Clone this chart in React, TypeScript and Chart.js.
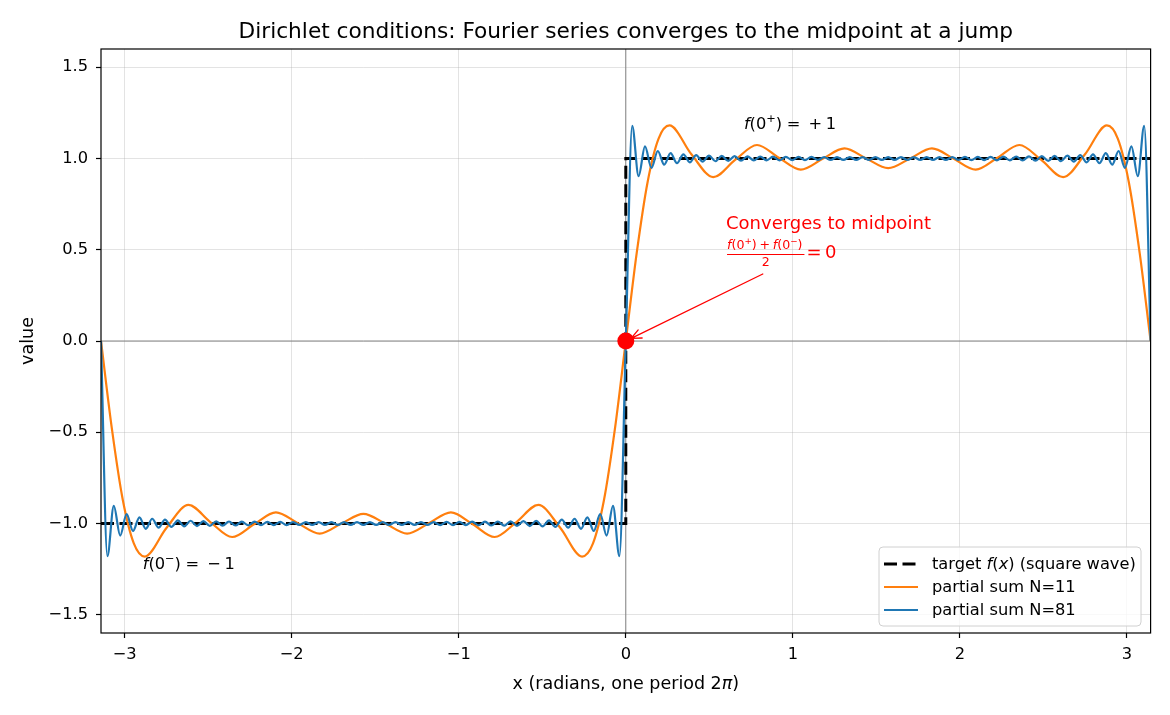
import React, { useEffect, useRef } from "react";
import { Chart, registerables } from "chart.js";

Chart.register(...registerables);

const FONT = '"DejaVu Sans", "Noto Sans", sans-serif';

// Axis limits and ticks
const xLimits = [-3.1416, 3.1416];
const yLimits = [-1.6, 1.6];
const xTickValues = [-3, -2, -1, 0, 1, 2, 3];
const yTickValues = [-1.5, -1.0, -0.5, 0.0, 0.5, 1.0, 1.5];

// Target square wave f(x)
const targetX = [-3.1416, 0, 0, 3.1416];
const targetY = [-1, -1, 1, 1];

// Partial sum N=11 (extrema, crossings and the steep rise through the jump)
const n11X = [
  -3.1416, -3.0761, -3.0107, -2.9452, -2.8798, -2.7489, -2.618, -2.4871, -2.3562, -2.2253,
  -2.0944, -1.9635, -1.8326, -1.7017, -1.5708, -1.4399, -1.309, -1.1781, -1.0472, -0.9163,
  -0.7854, -0.6545, -0.5236, -0.3927, -0.2618, -0.1963, -0.1309, -0.0654, 0,
  0.0654, 0.1309, 0.1963, 0.2618, 0.3927, 0.5236, 0.6545, 0.7854, 0.9163, 1.0472,
  1.1781, 1.309, 1.4399, 1.5708, 1.7017, 1.8326, 1.9635, 2.0944, 2.2253, 2.3562,
  2.4871, 2.618, 2.7489, 2.8798, 2.9452, 3.0107, 3.0761, 3.1416,
];
const n11Y = [
  0, -0.483, -0.873, -1.109, -1.181, -1.023, -0.898, -0.992, -1.074, -1.004,
  -0.939, -0.998, -1.055, -1.0, -0.947, -1.0, -1.055, -0.998, -0.939, -1.004,
  -1.074, -0.992, -0.898, -1.023, -1.181, -1.109, -0.873, -0.483, 0,
  0.483, 0.873, 1.109, 1.181, 1.023, 0.898, 0.992, 1.074, 1.004, 0.939,
  0.998, 1.055, 1.0, 0.947, 1.0, 1.055, 0.998, 0.939, 1.004, 1.074,
  0.992, 0.898, 1.023, 1.181, 1.109, 0.873, 0.483, 0,
];

// Partial sum N=81 (ripple peaks and troughs)
const n81X = [
  -3.1416,
  -3.1033, -3.065, -3.0267, -2.9883, -2.95, -2.9117, -2.8734, -2.8351, -2.7968, -2.7585,
  -2.7202, -2.6818, -2.6435, -2.6052, -2.5669, -2.5286, -2.4903, -2.452, -2.4137, -2.3754,
  -2.337, -2.2987, -2.2604, -2.2221, -2.1838, -2.1455, -2.1072, -2.0689, -2.0305, -1.9922,
  -1.9539, -1.9156, -1.8773, -1.839, -1.8007, -1.7624, -1.724, -1.6857, -1.6474, -1.6091,
  -1.5708,
  -1.5325, -1.4942, -1.4559, -1.4175, -1.3792, -1.3409, -1.3026, -1.2643, -1.226, -1.1877,
  -1.1494, -1.1111, -1.0727, -1.0344, -0.9961, -0.9578, -0.9195, -0.8812, -0.8429, -0.8046,
  -0.7662, -0.7279, -0.6896, -0.6513, -0.613, -0.5747, -0.5364, -0.4981, -0.4597, -0.4214,
  -0.3831, -0.3448, -0.3065, -0.2682, -0.2299, -0.1916, -0.1532, -0.1149, -0.0766, -0.0383,
  0,
  0.0383, 0.0766, 0.1149, 0.1532, 0.1916, 0.2299, 0.2682, 0.3065, 0.3448, 0.3831,
  0.4214, 0.4597, 0.4981, 0.5364, 0.5747, 0.613, 0.6513, 0.6896, 0.7279, 0.7662,
  0.8046, 0.8429, 0.8812, 0.9195, 0.9578, 0.9961, 1.0344, 1.0727, 1.1111, 1.1494,
  1.1877, 1.226, 1.2643, 1.3026, 1.3409, 1.3792, 1.4175, 1.4559, 1.4942, 1.5325,
  1.5708,
  1.6091, 1.6474, 1.6857, 1.724, 1.7624, 1.8007, 1.839, 1.8773, 1.9156, 1.9539,
  1.9922, 2.0305, 2.0689, 2.1072, 2.1455, 2.1838, 2.2221, 2.2604, 2.2987, 2.337,
  2.3754, 2.4137, 2.452, 2.4903, 2.5286, 2.5669, 2.6052, 2.6435, 2.6818, 2.7202,
  2.7585, 2.7968, 2.8351, 2.8734, 2.9117, 2.95, 2.9883, 3.0267, 3.065, 3.1033,
  3.1416,
];
const n81Y = [
  0,
  -1.179, -0.903, -1.066, -0.949, -1.041, -0.966, -1.029, -0.974, -1.023, -0.979,
  -1.019, -0.983, -1.016, -0.985, -1.014, -0.987, -1.013, -0.988, -1.012, -0.989,
  -1.011, -0.99, -1.01, -0.99, -1.009, -0.991, -1.009, -0.991, -1.009, -0.992,
  -1.008, -0.992, -1.008, -0.992, -1.008, -0.992, -1.008, -0.992, -1.008, -0.992,
  -1.008,
  -0.992, -1.008, -0.992, -1.008, -0.992, -1.008, -0.992, -1.008, -0.992, -1.008,
  -0.992, -1.009, -0.991, -1.009, -0.991, -1.009, -0.99, -1.01, -0.99, -1.011,
  -0.989, -1.012, -0.988, -1.013, -0.987, -1.014, -0.985, -1.016, -0.983, -1.019,
  -0.979, -1.023, -0.974, -1.029, -0.966, -1.041, -0.949, -1.066, -0.903, -1.179,
  0,
  1.179, 0.903, 1.066, 0.949, 1.041, 0.966, 1.029, 0.974, 1.023, 0.979,
  1.019, 0.983, 1.016, 0.985, 1.014, 0.987, 1.013, 0.988, 1.012, 0.989,
  1.011, 0.99, 1.01, 0.99, 1.009, 0.991, 1.009, 0.991, 1.009, 0.992,
  1.008, 0.992, 1.008, 0.992, 1.008, 0.992, 1.008, 0.992, 1.008, 0.992,
  1.008,
  0.992, 1.008, 0.992, 1.008, 0.992, 1.008, 0.992, 1.008, 0.992, 1.008,
  0.992, 1.009, 0.991, 1.009, 0.991, 1.009, 0.99, 1.01, 0.99, 1.011,
  0.989, 1.012, 0.988, 1.013, 0.987, 1.014, 0.985, 1.016, 0.983, 1.019,
  0.979, 1.023, 0.974, 1.029, 0.966, 1.041, 0.949, 1.066, 0.903, 1.179,
  0,
];

// Midpoint at the jump
const midpointX = [0];
const midpointY = [0];

// Labels
const titleText = "Dirichlet conditions: Fourier series converges to the midpoint at a jump";
const legendLabels = ["target f(x) (square wave)", "partial sum N=11", "partial sum N=81"];

const COLORS = {
  target: "#000000",
  n11: "#ff7f0e",
  n81: "#1f77b4",
  red: "#ff0000",
};

type Run = { t?: string; italic?: boolean; scale?: number; rise?: number; gap?: number };

function fontFor(size: number, italic?: boolean) {
  return `${italic ? "italic " : ""}${size}px ${FONT}`;
}

function runsWidth(ctx: CanvasRenderingContext2D, runs: Run[], size: number) {
  let w = 0;
  for (const r of runs) {
    if (r.gap !== undefined) {
      w += r.gap * size;
      continue;
    }
    ctx.font = fontFor(size * (r.scale ?? 1), r.italic);
    w += ctx.measureText(r.t ?? "").width;
  }
  return w;
}

function drawRuns(
  ctx: CanvasRenderingContext2D,
  runs: Run[],
  x: number,
  baseline: number,
  size: number,
  color: string,
  align: "left" | "center" = "left"
) {
  const w = runsWidth(ctx, runs, size);
  let cx = align === "center" ? x - w / 2 : x;
  ctx.save();
  ctx.fillStyle = color;
  ctx.textAlign = "left";
  ctx.textBaseline = "alphabetic";
  for (const r of runs) {
    if (r.gap !== undefined) {
      cx += r.gap * size;
      continue;
    }
    ctx.font = fontFor(size * (r.scale ?? 1), r.italic);
    ctx.fillText(r.t ?? "", cx, baseline - (r.rise ?? 0) * size);
    cx += ctx.measureText(r.t ?? "").width;
  }
  ctx.restore();
  return w;
}

function fmtTick(v: number, digits: number) {
  const s = Math.abs(v).toFixed(digits);
  return v < 0 ? "\u2212" + s : s;
}

const points = (xs: number[], ys: number[]) => xs.map((x, i) => ({ x, y: ys[i] }));

const overlayPlugin = {
  id: "overlay",
  beforeDatasetsDraw(chart: any) {
    const { ctx, chartArea: a, scales } = chart;
    const x0 = scales.x.getPixelForValue(0);
    const y0 = scales.y.getPixelForValue(0);
    ctx.save();
    ctx.strokeStyle = "rgba(128,128,128,0.95)";
    ctx.lineWidth = 1;
    ctx.beginPath();
    ctx.moveTo(a.left, y0);
    ctx.lineTo(a.right, y0);
    ctx.moveTo(x0, a.top);
    ctx.lineTo(x0, a.bottom);
    ctx.stroke();
    ctx.restore();
  },
  afterDraw(chart: any) {
    const { ctx, chartArea: a, scales } = chart;
    const px = (v: number) => scales.x.getPixelForValue(v);
    const py = (v: number) => scales.y.getPixelForValue(v);

    // Axes box
    ctx.save();
    ctx.strokeStyle = "#000";
    ctx.lineWidth = 1.2;
    ctx.strokeRect(a.left, a.top, a.right - a.left, a.bottom - a.top);
    ctx.restore();

    // Title
    drawRuns(ctx, [{ t: titleText }], (a.left + a.right) / 2, 38, 21.7, "#000", "center");

    // Axis titles
    drawRuns(
      ctx,
      [{ t: "x (radians, one period 2" }, { t: "\u03c0", italic: true }, { t: ")" }],
      (a.left + a.right) / 2,
      689,
      17.5,
      "#000",
      "center"
    );
    ctx.save();
    ctx.translate(33, (a.top + a.bottom) / 2);
    ctx.rotate(-Math.PI / 2);
    drawRuns(ctx, [{ t: "value" }], 0, 0, 17.5, "#000", "center");
    ctx.restore();

    // One-sided limit labels
    const s9 = 16.25;
    drawRuns(
      ctx,
      [
        { t: "f", italic: true },
        { t: "(0" },
        { t: "+", scale: 0.7, rise: 0.42 },
        { t: ")" },
        { gap: 0.28 },
        { t: "=" },
        { gap: 0.5 },
        { t: "+" },
        { gap: 0.22 },
        { t: "1" },
      ],
      px(0.707),
      py(1.162),
      s9,
      "#000"
    );
    drawRuns(
      ctx,
      [
        { t: "f", italic: true },
        { t: "(0" },
        { t: "\u2212", scale: 0.7, rise: 0.42 },
        { t: ")" },
        { gap: 0.28 },
        { t: "=" },
        { gap: 0.5 },
        { t: "\u2212" },
        { gap: 0.22 },
        { t: "1" },
      ],
      px(-2.892),
      py(-1.249),
      s9,
      "#000"
    );

    // Midpoint annotation
    const s10 = 18;
    const tx = px(0.6);
    drawRuns(ctx, [{ t: "Converges to midpoint" }], tx, py(0.614), s10, COLORS.red);
    const sn = 12.6;
    const num: Run[] = [
      { t: "f", italic: true },
      { t: "(0" },
      { t: "+", scale: 0.7, rise: 0.42 },
      { t: ")" },
      { gap: 0.22 },
      { t: "+" },
      { gap: 0.22 },
      { t: "f", italic: true },
      { t: "(0" },
      { t: "\u2212", scale: 0.7, rise: 0.42 },
      { t: ")" },
    ];
    const fx = tx + 1;
    const nw = drawRuns(ctx, num, fx, 249, sn, COLORS.red);
    ctx.save();
    ctx.fillStyle = COLORS.red;
    ctx.fillRect(fx, 254, nw + 2, 1);
    ctx.restore();
    drawRuns(ctx, [{ t: "2" }], fx + (nw + 2) / 2, 266, sn, COLORS.red, "center");
    drawRuns(ctx, [{ t: "=" }, { gap: 0.19 }, { t: "0" }], fx + nw + 4, 258, s10, COLORS.red);

    // Arrow to the midpoint
    const tail = { x: px(0.82), y: py(0.367) };
    const c = { x: px(midpointX[0]), y: py(midpointY[0]) };
    const dx = tail.x - c.x;
    const dy = tail.y - c.y;
    const len = Math.hypot(dx, dy);
    const ux = dx / len;
    const uy = dy / len;
    const tip = { x: c.x + ux * 6, y: c.y + uy * 6 };
    ctx.save();
    ctx.strokeStyle = COLORS.red;
    ctx.lineWidth = 1.3;
    ctx.lineCap = "round";
    ctx.beginPath();
    ctx.moveTo(tail.x, tail.y);
    ctx.lineTo(tip.x, tip.y);
    const hl = 10;
    const hw = 4.5;
    const bx = tip.x + ux * hl;
    const by = tip.y + uy * hl;
    ctx.moveTo(bx - uy * hw, by + ux * hw);
    ctx.lineTo(tip.x, tip.y);
    ctx.lineTo(bx + uy * hw, by - ux * hw);
    ctx.stroke();
    ctx.restore();

    // Legend
    const lw = 262;
    const lh = 79;
    const lx = a.right - 9.6 - lw;
    const ly = a.bottom - 7 - lh;
    ctx.save();
    ctx.beginPath();
    const r = 4;
    ctx.moveTo(lx + r, ly);
    ctx.arcTo(lx + lw, ly, lx + lw, ly + lh, r);
    ctx.arcTo(lx + lw, ly + lh, lx, ly + lh, r);
    ctx.arcTo(lx, ly + lh, lx, ly, r);
    ctx.arcTo(lx, ly, lx + lw, ly, r);
    ctx.closePath();
    ctx.fillStyle = "rgba(255,255,255,0.8)";
    ctx.fill();
    ctx.strokeStyle = "#d0d0d0";
    ctx.lineWidth = 1;
    ctx.stroke();
    ctx.restore();

    const rows = [
      { color: COLORS.target, width: 3, dash: [13, 5.5] },
      { color: COLORS.n11, width: 2.2, dash: [] as number[] },
      { color: COLORS.n81, width: 2.2, dash: [] as number[] },
    ];
    const labelRuns: Run[][] = [
      [
        { t: "target " },
        { t: "f", italic: true },
        { t: "(" },
        { t: "x", italic: true },
        { t: ") (square wave)" },
      ],
      [{ t: legendLabels[1] }],
      [{ t: legendLabels[2] }],
    ];
    rows.forEach((row, i) => {
      const base = ly + 22 + i * 23;
      const ymid = base - 5;
      ctx.save();
      ctx.strokeStyle = row.color;
      ctx.lineWidth = row.width;
      ctx.setLineDash(row.dash);
      ctx.beginPath();
      ctx.moveTo(lx + 5, ymid);
      ctx.lineTo(lx + 39, ymid);
      ctx.stroke();
      ctx.restore();
      drawRuns(ctx, labelRuns[i], lx + 53, base, 16.25, "#000");
    });
  },
};

export default function App() {
  const canvasRef = useRef<HTMLCanvasElement | null>(null);

  useEffect(() => {
    const canvas = canvasRef.current;
    if (!canvas) return;
    const tickFont = { family: FONT, size: 16.25 };
    const chart = new Chart(canvas, {
      type: "line",
      data: {
        datasets: [
          {
            label: legendLabels[0],
            data: points(targetX, targetY),
            borderColor: COLORS.target,
            borderWidth: 3,
            borderDash: [13, 5.5],
            pointRadius: 0,
            fill: false,
            order: 4,
          },
          {
            label: legendLabels[1],
            data: points(n11X, n11Y),
            borderColor: COLORS.n11,
            borderWidth: 2.2,
            pointRadius: 0,
            cubicInterpolationMode: "monotone",
            fill: false,
            order: 3,
          },
          {
            label: legendLabels[2],
            data: points(n81X, n81Y),
            borderColor: COLORS.n81,
            borderWidth: 2.2,
            pointRadius: 0,
            cubicInterpolationMode: "monotone",
            fill: false,
            order: 2,
          },
          {
            label: "midpoint",
            data: points(midpointX, midpointY),
            showLine: false,
            pointRadius: 8.5,
            pointBackgroundColor: COLORS.red,
            pointBorderWidth: 0,
            borderColor: COLORS.red,
            order: 1,
            clip: false,
          } as any,
        ],
      },
      options: {
        animation: false,
        responsive: false,
        devicePixelRatio: 1,
        layout: { padding: { top: 49, right: 19.4, left: 0, bottom: 0 } },
        plugins: {
          legend: { display: false },
          tooltip: { enabled: false },
          title: { display: false },
        },
        scales: {
          x: {
            type: "linear",
            min: xLimits[0],
            max: xLimits[1],
            afterBuildTicks: (s: any) => {
              s.ticks = xTickValues.map((v) => ({ value: v }));
            },
            afterFit: (s: any) => {
              s.height = 82;
            },
            ticks: {
              callback: (v: any) => fmtTick(Number(v), 0),
              font: tickFont,
              color: "#000",
              padding: 7,
              maxRotation: 0,
              autoSkip: false,
            },
            grid: {
              color: "rgba(176,176,176,0.35)",
              lineWidth: 1,
              tickColor: "#000",
              tickLength: 5,
              tickWidth: 1.2,
            },
            border: { display: false },
          },
          y: {
            type: "linear",
            min: yLimits[0],
            max: yLimits[1],
            afterBuildTicks: (s: any) => {
              s.ticks = yTickValues.map((v) => ({ value: v }));
            },
            afterFit: (s: any) => {
              s.width = 101;
            },
            ticks: {
              callback: (v: any) => fmtTick(Number(v), 1),
              font: tickFont,
              color: "#000",
              padding: 8,
              autoSkip: false,
            },
            grid: {
              color: "rgba(176,176,176,0.35)",
              lineWidth: 1,
              tickColor: "#000",
              tickLength: 5,
              tickWidth: 1.2,
            },
            border: { display: false },
          },
        },
      },
      plugins: [overlayPlugin],
    });
    return () => chart.destroy();
  }, []);

  return (
    <div style={{ position: "absolute", left: 0, top: 0, width: 1170, height: 715, background: "#fff" }}>
      <canvas ref={canvasRef} width={1170} height={715} style={{ display: "block" }} />
    </div>
  );
}
